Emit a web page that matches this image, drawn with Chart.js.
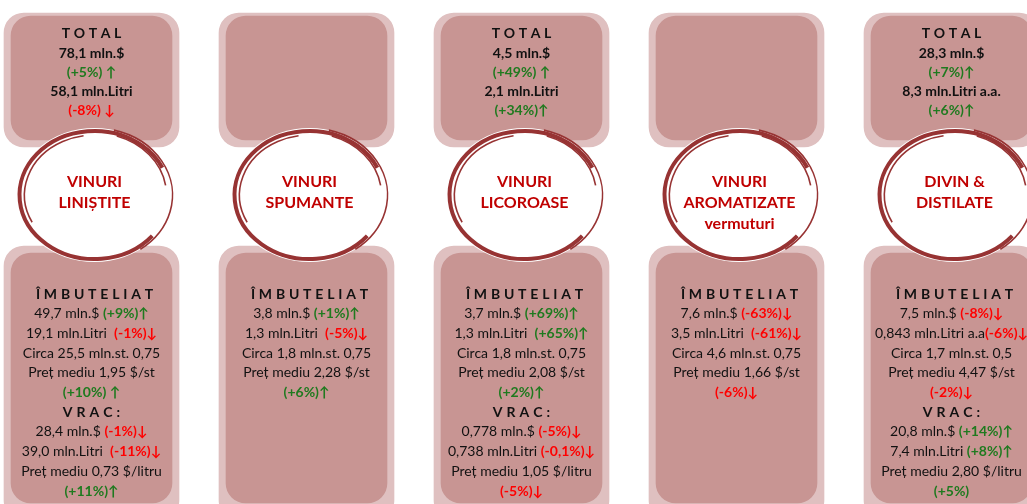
<!DOCTYPE html>
<html>
<head>
<meta charset="utf-8">
<script src="https://cdn.jsdelivr.net/npm/chart.js@4/dist/chart.umd.min.js"></script>
<style>
  body { margin: 0; overflow: hidden; background: #fff; }
  #wrap { position: absolute; left: -16px; top: 0; width: 1075px; height: 504px; }
</style>
</head>
<body>
<div id="wrap"><canvas id="myChart"></canvas></div>
<script>
// categories (text inside the wine rings)
var categories = [['VINURI', 'LINIȘTITE'], ['VINURI', 'SPUMANTE'], ['VINURI', 'LICOROASE'],
                  ['VINURI', 'AROMATIZATE', 'vermuturi'], ['DIVIN &', 'DISTILATE']]

// TOTAL (null = empty box)
var totalValue = ['78,1 mln.$', null, '4,5 mln.$', null, '28,3 mln.$']
var totalValueChange = ['(+5%) ↑', null, '(+49%) ↑', null, '(+7%)↑']
var totalVolume = ['58,1 mln.Litri', null, '2,1 mln.Litri', null, '8,3 mln.Litri a.a.']
var totalVolumeChange = ['(-8%) ↓', null, '(+34%)↑', null, '(+6%)↑']

// ÎMBUTELIAT
var bottledValue = ['49,7 mln.$', '3,8 mln.$', '3,7 mln.$', '7,6 mln.$', '7,5 mln.$']
var bottledValueChange = ['(+9%)↑', '(+1%)↑', '(+69%)↑', '(-63%)↓', '(-8%)↓']
var bottledVolume = ['19,1 mln.Litri  ', '1,3 mln.Litri  ', '1,3 mln.Litri  ', '3,5 mln.Litri  ', '0,843 mln.Litri a.a']
var bottledVolumeChange = ['(-1%)↓', '(-5%)↓', '(+65%)↑', '(-61%)↓', '(-6%)↓']
var bottledBottles = ['Circa 25,5 mln.st. 0,75', 'Circa 1,8 mln.st. 0,75', 'Circa 1,8 mln.st. 0,75',
                      'Circa 4,6 mln.st. 0,75', 'Circa 1,7 mln.st. 0,5']
var bottledPrice = ['Preț mediu 1,95 $/st', 'Preț mediu 2,28 $/st', 'Preț mediu 2,08 $/st',
                    'Preț mediu 1,66 $/st', 'Preț mediu 4,47 $/st']
var bottledPriceChange = ['(+10%) ↑', '(+6%)↑', '(+2%)↑', '(-6%)↓', '(-2%)↓']

// VRAC (null = no bulk section)
var bulkValue = ['28,4 mln.$ ', null, '0,778 mln.$ ', null, '20,8 mln.$ ']
var bulkValueChange = ['(-1%)↓', null, '(-5%)↓', null, '(+14%)↑']
var bulkVolume = ['39,0 mln.Litri  ', null, '0,738 mln.Litri ', null, '7,4 mln.Litri ']
var bulkVolumeChange = ['(-11%)↓', null, '(-0,1%)↓', null, '(+8%)↑']
var bulkPrice = ['Preț mediu 0,73 $/litru', null, 'Preț mediu 1,05 $/litru', null, 'Preț mediu 2,80 $/litru']
var bulkPriceChange = ['(+11%)↑', null, '(-5%)↓', null, '(+5%)']

var FONT = 'Lato, "Open Sans", sans-serif'
var BOX = '#c89593'
var SHADE = '#dfc0c0'
var RING = '#973333'
var GREEN = '#1f7a1f'
var RED = '#ff0000'

function tone (s) {
  return s.indexOf('+') >= 0 ? GREEN : RED
}

function band (lo, hi) {
  return categories.map(function () { return [lo, hi] })
}

// draws one centered line made of [text, font, color] parts
function drawLine (ctx, parts, cx, cy) {
  var w = 0
  parts.forEach(function (p) { ctx.font = p[1]; w += ctx.measureText(p[0]).width })
  var x = cx - w / 2
  parts.forEach(function (p) {
    ctx.font = p[1]
    ctx.fillStyle = p[2]
    ctx.fillText(p[0], x, cy)
    x += ctx.measureText(p[0]).width
  })
}

function drawSpaced (ctx, text, cx, cy, font, gap) {
  ctx.font = font
  ctx.fillStyle = '#111'
  var chars = text.split('')
  var w = 0
  chars.forEach(function (c) { w += ctx.measureText(c).width })
  w += gap * (chars.length - 1)
  var x = cx - w / 2
  chars.forEach(function (c) {
    ctx.fillText(c, x, cy)
    x += ctx.measureText(c).width + gap
  })
}

var infoPlugin = {
  id: 'infoPlugin',
  afterDatasetsDraw (chart) {
    var ctx = chart.ctx
    var xs = chart.scales.x
    var ys = chart.scales.y
    var bold = 'bold 14px ' + FONT
    var norm = '14px ' + FONT
    ctx.save()
    ctx.textBaseline = 'middle'
    for (var i = 0; i < categories.length; i++) {
      var cx = xs.getPixelForValue(i)
      var rx = cx + 3
      var ry = ys.getPixelForValue(195)

      // wine ring
      ctx.fillStyle = '#fff'
      ctx.beginPath()
      ctx.ellipse(rx, ry, 78, 67, 0, 0, Math.PI * 2)
      ctx.fill()
      ctx.strokeStyle = RING
      ctx.lineWidth = 4
      ctx.beginPath()
      ctx.ellipse(rx, ry, 75, 64, 0, Math.PI * 0.22, Math.PI * 1.86)
      ctx.stroke()
      ctx.lineWidth = 1.6
      ctx.beginPath()
      ctx.ellipse(rx, ry, 78, 67, 0, -Math.PI * 0.42, Math.PI * 0.3)
      ctx.stroke()
      ctx.beginPath()
      ctx.ellipse(rx, ry, 70, 60, 0, Math.PI * 0.85, Math.PI * 1.45)
      ctx.stroke()
      ctx.beginPath()
      ctx.ellipse(rx, ry, 72, 62, 0, Math.PI * 1.6, Math.PI * 1.95)
      ctx.stroke()

      // category label
      ctx.textAlign = 'center'
      ctx.fillStyle = '#c00000'
      categories[i].forEach(function (t, k) {
        ctx.font = 'bold 16px ' + FONT
        ctx.fillText(t, rx, ys.getPixelForValue(182 + k * 21))
      })
      ctx.textAlign = 'left'

      // TOTAL box
      if (totalValue[i]) {
        drawSpaced(ctx, 'TOTAL', cx, ys.getPixelForValue(33), bold, 3.6)
        drawLine(ctx, [[totalValue[i], bold, '#111']], cx, ys.getPixelForValue(53))
        drawLine(ctx, [[totalValueChange[i], bold, tone(totalValueChange[i])]], cx, ys.getPixelForValue(72))
        drawLine(ctx, [[totalVolume[i], bold, '#111']], cx, ys.getPixelForValue(91))
        drawLine(ctx, [[totalVolumeChange[i], bold, tone(totalVolumeChange[i])]], cx, ys.getPixelForValue(110))
      }

      // bottom box
      var row = function (r) { return ys.getPixelForValue(294 + r * 19.7) }
      drawSpaced(ctx, 'ÎMBUTELIAT', cx + 3, row(0), bold, 3.8)
      drawLine(ctx, [[bottledValue[i] + ' ', norm, '#111'], [bottledValueChange[i], bold, tone(bottledValueChange[i])]], cx, row(1))
      drawLine(ctx, [[bottledVolume[i], norm, '#111'], [bottledVolumeChange[i], bold, tone(bottledVolumeChange[i])]], cx, row(2))
      drawLine(ctx, [[bottledBottles[i], norm, '#111']], cx, row(3))
      drawLine(ctx, [[bottledPrice[i], norm, '#111']], cx, row(4))
      drawLine(ctx, [[bottledPriceChange[i], bold, tone(bottledPriceChange[i])]], cx, row(5))
      if (bulkValue[i]) {
        drawSpaced(ctx, 'VRAC:', cx, row(6), bold, 4)
        drawLine(ctx, [[bulkValue[i], norm, '#111'], [bulkValueChange[i], bold, tone(bulkValueChange[i])]], cx, row(7))
        drawLine(ctx, [[bulkVolume[i], norm, '#111'], [bulkVolumeChange[i], bold, tone(bulkVolumeChange[i])]], cx, row(8))
        drawLine(ctx, [[bulkPrice[i], norm, '#111']], cx, row(9))
        drawLine(ctx, [[bulkPriceChange[i], bold, tone(bulkPriceChange[i])]], cx, row(10))
      }
    }
    ctx.restore()
  }
}

var ctx = document.getElementById('myChart').getContext('2d')
var chart = new Chart(ctx, {
  type: 'bar',
  data: {
    labels: categories,
    datasets: [
      { label: 'total', data: band(16, 140), backgroundColor: BOX, barThickness: 161 },
      { label: 'detail', data: band(253, 503), backgroundColor: BOX, barThickness: 161 },
      { label: 'total shade', data: band(13, 147), backgroundColor: SHADE, barThickness: 175 },
      { label: 'detail shade', data: band(246, 520), backgroundColor: SHADE, barThickness: 175 }
    ]
  },
  options: {
    responsive: true,
    maintainAspectRatio: false,
    animation: false,
    layout: { padding: 0 },
    datasets: {
      bar: { grouped: false, borderRadius: 20, borderSkipped: false }
    },
    plugins: { legend: { display: false }, tooltip: { enabled: false } },
    scales: {
      x: { display: false, offset: true },
      y: { display: false, min: 0, max: 504, reverse: true }
    }
  },
  plugins: [infoPlugin]
})
</script>
</body>
</html>
